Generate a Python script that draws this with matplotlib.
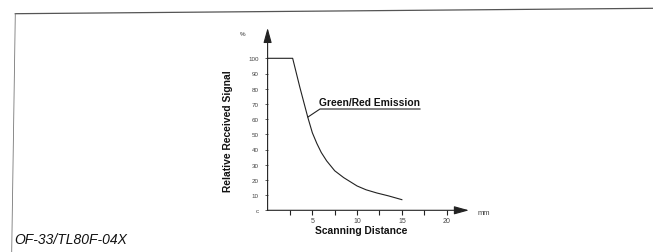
import matplotlib
matplotlib.use("Agg")
import matplotlib.pyplot as plt
from matplotlib.lines import Line2D

plt.rcParams['font.family'] = ['Liberation Sans', 'DejaVu Sans']

# Data
distance_mm = [0, 2.8, 3.6, 4.5, 5.0, 5.5, 6.0, 6.6, 7.5, 8.5, 10, 11, 12.2, 13.5, 15]
signal_pct = [100, 100, 81, 61, 51, 44, 38, 32.5, 26, 21.5, 16, 13.5, 11.4, 9.5, 7]
x_ticks = [2.5, 5, 7.5, 10, 12.5, 15, 17.5, 20]
x_tick_labels = ['', '5', '', '10', '', '15', '', '20']
y_ticks = [0, 10, 20, 30, 40, 50, 60, 70, 80, 90, 100]
y_tick_labels = ['c', '10', '20', '30', '40', '50', '60', '70', '80', '90', '100']
series_label = 'Green/Red Emission'
title_code = 'OF-33/TL80F-04X'

W, H = 653, 253
fig = plt.figure(figsize=(W / 100, H / 100), dpi=100)

def fx(px):
    return px / W

def fy(py):
    return 1 - py / H

# Axes placement
x0, y0 = 267.6, 211.3
xmax, ymax = 22.5, 120
px_per_mm, px_per_pct = 8.95, 1.52
ax = fig.add_axes([fx(x0), fy(y0), xmax * px_per_mm / W, ymax * px_per_pct / H])
ax.set_xlim(0, xmax)
ax.set_ylim(0, ymax)
for s in ax.spines.values():
    s.set_visible(False)

ax.plot(distance_mm, signal_pct, color='#222222', lw=0.8)

# Axis lines with arrows
ax.annotate('', xy=(xmax, 0), xytext=(0, 0),
            arrowprops=dict(arrowstyle='-|>,head_length=0.9,head_width=0.25',
                            color='#222222', lw=0.8, shrinkA=0, shrinkB=0),
            annotation_clip=False)
ax.annotate('', xy=(0, ymax), xytext=(0, 0),
            arrowprops=dict(arrowstyle='-|>,head_length=0.9,head_width=0.25',
                            color='#222222', lw=0.8, shrinkA=0, shrinkB=0),
            annotation_clip=False)

ax.set_xticks(x_ticks)
ax.set_xticklabels(x_tick_labels)
ax.set_yticks(y_ticks)
ax.set_yticklabels(y_tick_labels)
ax.tick_params(axis='x', direction='out', length=3.6, width=0.8, color='#222222',
               labelsize=5, labelcolor='#444444', pad=1.5)
ax.tick_params(axis='y', direction='out', length=2.5, width=0.6, color='#444444',
               labelsize=4.5, labelcolor='#444444', pad=4)

# Axis labels
fig.text(fx(228), fy(131), 'Relative Received Signal', rotation=90, ha='center',
         va='center', fontsize=7.4, fontweight='bold', color='#111111')
fig.text(fx(361), fy(231), 'Scanning Distance', ha='center', va='center',
         fontsize=7.4, fontweight='bold', color='#111111')
fig.text(fx(478), fy(214), 'mm', ha='left', va='center', fontsize=5.5, color='#444444')
fig.text(fx(243), fy(35), '%', ha='center', va='center', fontsize=4.5, color='#333333')

# Series label with leader
fig.text(fx(319), fy(102.5), series_label, ha='left', va='center', fontsize=7.4,
         fontweight='bold', color='#111111')
fig.add_artist(Line2D([fx(308), fx(320), fx(420)], [fy(118), fy(110), fy(110)],
                      color='#222222', lw=0.8))

# Page frame lines
fig.add_artist(Line2D([fx(15.3), fx(653)], [fy(14.7), fy(9.3)], color='#555555', lw=0.9))
fig.add_artist(Line2D([fx(15.3), fx(11.7)], [fy(14.7), fy(253)], color='#777777', lw=0.6))

fig.text(fx(14), fy(240), title_code, ha='left', va='center', fontsize=10,
         fontstyle='italic', color='#111111')

fig.savefig('out.png', dpi=100)
